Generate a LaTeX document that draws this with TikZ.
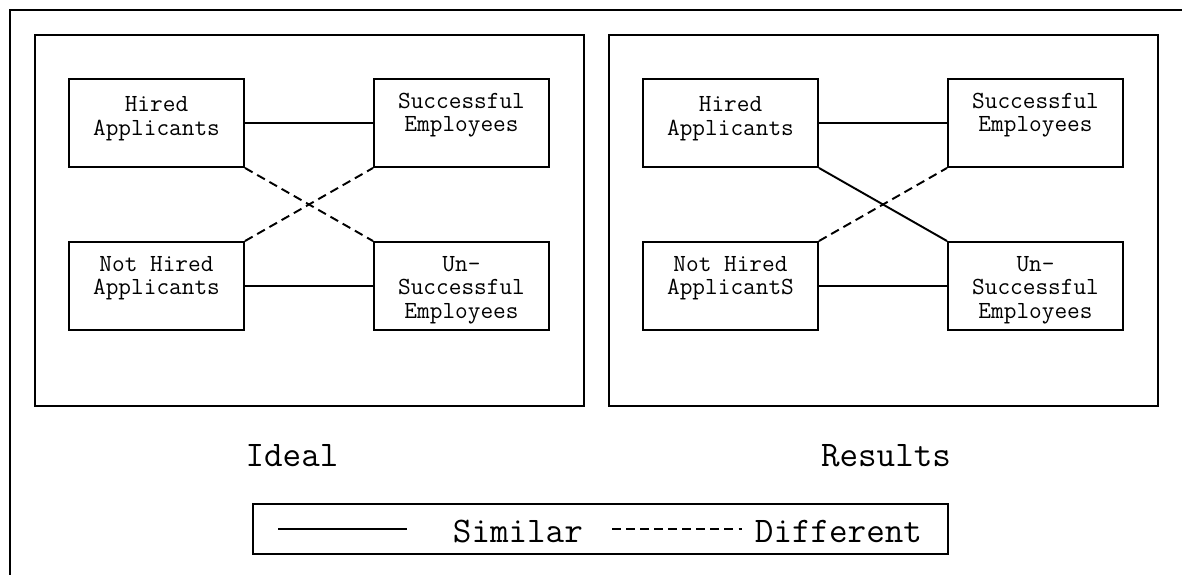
\documentclass[tikz,border=0pt]{standalone}
\usepackage{fontspec}
\setmainfont{Latin Modern Mono}
\usetikzlibrary{positioning}

\newcommand{\boxlines}[1]{\begin{tabular}[t]{@{}c@{}}#1\end{tabular}}

\begin{document}
\begin{tikzpicture}[
  font=\fontsize{14}{13.6}\selectfont,
  line width=1.1pt,
  item/.style={rectangle, draw, minimum width=3.5cm, minimum height=1.76cm,
               inner sep=0pt, text height=10pt, text depth=27pt},
  hired/.style={item, text depth=23.2pt},
  panel/.style={rectangle, draw, minimum width=10.98cm, minimum height=7.42cm, inner sep=0pt},
  caption/.style={font=\fontsize{20.5}{22}\selectfont, anchor=base},
  keybox/.style={rectangle, draw, minimum width=13.9cm, minimum height=1.0cm, inner sep=0pt},
  same/.style={draw=black},
  diff/.style={draw=black, dash pattern=on 5pt off 3pt},
]
\useasboundingbox (0,0) rectangle (23.64,11.5);

% frame, cut at the right and bottom
\draw (0.2,0) -- (0.2,11.3) -- (23.64,11.3);

\node[panel] (ideal)   at (6.19,7.09)  {};
\node[panel] (results) at (17.67,7.09) {};

% ideal
\node[hired] (ihired)  at (3.13,9.04) {\boxlines{Hired\\Applicants}};
\node[item]  (isucc)   at (9.23,9.04) {\boxlines{Successful\\Employees}};
\node[item]  (inot)    at (3.13,5.78) {\boxlines{Not Hired\\Applicants}};
\node[item]  (iunsucc) at (9.23,5.78) {\boxlines{Un-\\Successful\\Employees}};

\draw[same] (ihired) -- (isucc);
\draw[same] (inot) -- (iunsucc);
\draw[diff] (ihired.south east) -- (iunsucc.north west);
\draw[diff] (inot.north east) -- (isucc.south west);

% results
\node[hired] (rhired)  at (14.61,9.04) {\boxlines{Hired\\Applicants}};
\node[item]  (rsucc)   at (20.71,9.04) {\boxlines{Successful\\Employees}};
\node[item]  (rnot)    at (14.61,5.78) {\boxlines{Not Hired\\ApplicantS}};
\node[item]  (runsucc) at (20.71,5.78) {\boxlines{Un-\\Successful\\Employees}};

\draw[same] (rhired) -- (rsucc);
\draw[same] (rnot) -- (runsucc);
\draw[same] (rhired.south east) -- (runsucc.north west);
\draw[diff] (rnot.north east) -- (rsucc.south west);

\node[caption] (idealtxt)   at (5.84,2.16)  {Ideal};
\node[caption] (resultstxt) at (17.72,2.16) {Results};

% legend
\node[keybox] (key) at (12.01,0.92) {};
\coordinate (s1) at (5.56,0.92);
\coordinate (s2) at (8.14,0.92);
\coordinate (d1) at (12.24,0.92);
\coordinate (d2) at (14.84,0.92);
\draw[same] (s1) -- (s2);
\draw[diff] (d1) -- (d2);
\node[caption, anchor=base west, inner sep=0pt] (simtxt)  at (9.04,0.64)  {Similar};
\node[caption, anchor=base west, inner sep=0pt] (difftxt) at (15.08,0.64) {Different};

\end{tikzpicture}
\end{document}
